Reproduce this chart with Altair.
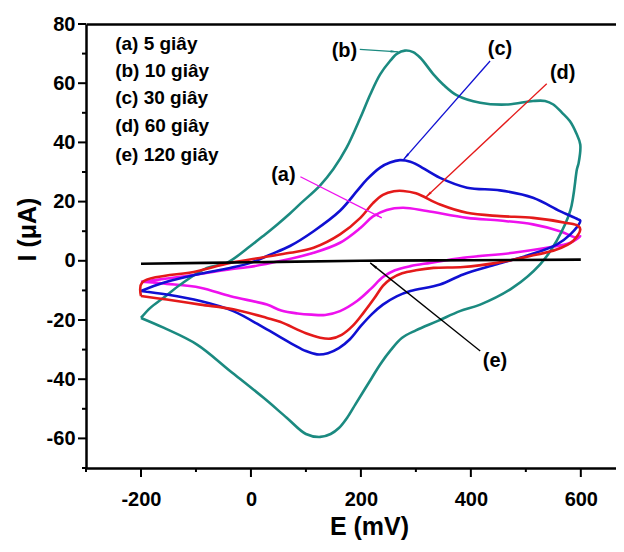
import math
import altair as alt
import pandas as pd

# ---------------- data ----------------
series_names = ["a", "b", "c", "d", "e"]
series_colors = ["#ee11ee", "#1b8a80", "#1010d2", "#e41a1a", "#000000"]

# (a) 5 giây - magenta
a_E = [-200, -153, -98, -37, -7, 53, 114, 162, 199, 222, 247, 277, 320, 393, 453, 513, 562, 593, 599,
       581, 538, 477, 386, 326, 290, 262, 240, 218, 193, 162, 135, 110, 85, 55, 29, -37, -92, -153, -200]
a_I = [-7.1, -6.0, -4.6, -2.8, -2.2, -0.1, 2.7, 6.1, 11.1, 15.0, 17.2, 17.9, 16.8, 14.5, 13.6, 12.3, 10.0, 7.8, 8.3,
       6.1, 4.4, 2.7, 1.0, -0.7, -1.8, -3.2, -5.5, -9.5, -13.6, -17.0, -18.3, -18.2, -17.8, -16.8, -14.8, -12.0, -9.1, -7.8, -7.1]

# (b) 10 giây - teal
b_E = [-200, -183, -159, -128, -80, -44, -1, 23, 48, 71, 90, 126, 150, 174, 199, 217, 235, 253, 266, 280, 295, 308,
       332, 350, 374, 417, 465, 513, 535, 550, 566, 580, 592, 599,
       596, 593, 581, 556, 526, 477, 417, 380, 340, 300, 275, 255, 235, 220, 205, 190, 175, 160, 145, 126, 100, 65, 23, -38, -98, -159, -200]
b_I = [-19.3, -15.9, -12.5, -8.0, -2.4, -0.7, 5.0, 8.5, 12.3, 16.0, 19.3, 25.5, 31.0, 38.2, 48.3, 56.2, 63.0, 67.5, 70.0, 71.0, 70.5, 68.6,
       63.0, 59.5, 56.0, 53.4, 52.8, 54.0, 54.0, 52.8, 50.0, 47.2, 43.0, 39.3,
       33.0, 31.0, 17.0, 6.7, -1.2, -9.0, -14.8, -17.0, -20.3, -23.5, -26.0, -30.0, -35.0, -39.5, -44.0, -48.5, -53.0, -56.5, -58.5, -59.5, -58.5, -53.0, -46.3, -37.2, -28.3, -22.6, -19.3]

# (c) 30 giây - blue
c_E = [-200, -159, -98, -38, -1, 35, 71, 114, 162, 193, 211, 235, 253, 271, 290, 302, 344, 393, 453, 513, 562, 595, 599,
       581, 556, 508, 447, 386, 344, 290, 265, 240, 220, 200, 180, 160, 140, 120, 100, 77, 29, -32, -92, -153, -200]
c_I = [-10.2, -7.4, -4.6, -2.4, -0.7, 2.1, 5.0, 10.0, 16.9, 23.6, 27.5, 31.5, 33.2, 34.0, 33.5, 32.5, 28.0, 24.7, 23.8, 21.3, 16.8, 14.0, 13.5,
       8.9, 5.5, 2.1, -1.2, -4.6, -8.0, -10.2, -12.0, -14.8, -18.0, -22.0, -26.5, -29.5, -31.2, -31.6, -30.5, -28.3, -23.2, -17.0, -13.6, -11.4, -10.2]

# (d) 60 giây - red
d_E = [-200, -198, -98, -38, 23, 71, 114, 162, 199, 222, 240, 260, 277, 300, 344, 393, 453, 513, 574, 595, 599,
       586, 556, 508, 447, 386, 332, 300, 275, 255, 240, 225, 205, 185, 165, 145, 126, 100, 53, 29, -32, -92, -153, -200]
d_I = [-11.9, -7.4, -3.5, -0.7, 1.2, 2.7, 4.4, 8.9, 14.5, 19.5, 22.3, 23.5, 23.6, 22.8, 19.0, 16.2, 15.1, 14.5, 12.8, 11.8, 10.6,
       6.7, 3.8, 1.6, -0.7, -2.1, -2.4, -3.2, -4.2, -6.0, -8.5, -12.5, -17.5, -22.0, -25.0, -26.3, -26.0, -24.5, -20.6, -19.3, -16.4, -14.8, -13.1, -11.9]

# (e) 120 giây - black
e_E = [-200, 0, 200, 400, 600]
e_I = [-1.0, -0.5, 0.0, 0.2, 0.4]

legend_lines = ["(a) 5 giây", "(b) 10 giây", "(c) 30 giây", "(d) 60 giây", "(e) 120 giây"]
legend_E = [-247, -247, -247, -247, -247]
legend_I = [73.1, 64.1, 55.1, 45.6, 35.9]

label_text = ["(a)", "(b)", "(c)", "(d)", "(e)"]
label_E = [59, 170, 453, 567, 444]
label_I = [29.0, 71.0, 71.4, 63.5, -33.9]

arrow_E1 = [90, 198, 435, 538, 417]
arrow_I1 = [28.4, 71.4, 67.5, 59.8, -30.5]
arrow_E2 = [238, 268, 277, 317, 217]
arrow_I2 = [14.5, 70.6, 34.1, 21.3, -0.7]

x_major = [-200, 0, 200, 400, 600]
x_minor = [-300, -100, 100, 300, 500]
y_major = [-60, -40, -20, 0, 20, 40, 60, 80]
y_minor = [-70, -50, -30, -10, 10, 30, 50, 70]
x_domain = [-300, 664]
y_domain = [-70, 80]

# ---------------- layout ----------------
W, H = 530, 444
sx = W / (x_domain[1] - x_domain[0])
sy = H / (y_domain[1] - y_domain[0])

rows = []
for name, Es, Is in zip(series_names, [a_E, b_E, c_E, d_E, e_E], [a_I, b_I, c_I, d_I, e_I]):
    for k, (e, i) in enumerate(zip(Es, Is)):
        rows.append({"s": name, "k": k, "E": e, "I": i})
curves_df = pd.DataFrame(rows)

arrow_rows = []
for n, x1, y1, x2, y2 in zip(series_names, arrow_E1, arrow_I1, arrow_E2, arrow_I2):
    dxp = (x2 - x1) * sx
    dyp = (y2 - y1) * sy
    L = math.hypot(dxp, dyp)
    ang = math.degrees(math.atan2(dxp, dyp)) % 360
    back = 5.0
    arrow_rows.append({"s": n, "E": x1, "I": y1, "E2": x2, "I2": y2, "ang": ang,
                       "hE": x2 - dxp / L * back / sx, "hI": y2 - dyp / L * back / sy})
arrows_df = pd.DataFrame(arrow_rows)

legend_df = pd.DataFrame({"t": legend_lines, "E": legend_E, "I": legend_I})
labels_df = pd.DataFrame({"t": label_text, "E": label_E, "I": label_I})
xt_major_df = pd.DataFrame({"v": x_major})
xt_minor_df = pd.DataFrame({"v": x_minor})
yt_major_df = pd.DataFrame({"v": y_major})
yt_minor_df = pd.DataFrame({"v": y_minor})

xs = alt.Scale(domain=x_domain, nice=False, zero=False)
ys = alt.Scale(domain=y_domain, nice=False, zero=False)
cs = alt.Scale(domain=series_names, range=series_colors)

FONT = "Liberation Sans"

x_axis = alt.Axis(
    values=x_major, title="E (mV)", labelExpr="'' + datum.value",
    ticks=False, labelPadding=21, titlePadding=5, titleX=283, titleAlign="center",
)
y_axis = alt.Axis(
    values=y_major, title="I (μA)", labelExpr="'' + datum.value",
    ticks=False, labelPadding=11,
    titleX=-46, titleY=205, titleAngle=270, titleBaseline="bottom", titleAlign="center",
)
top_axis = alt.Axis(orient="top", labels=False, ticks=False, title=None, domainWidth=2.5, domainColor="black")

curves = alt.Chart(curves_df).mark_line(strokeWidth=2.6, interpolate="catmull-rom").encode(
    x=alt.X("E:Q", scale=xs, axis=x_axis),
    y=alt.Y("I:Q", scale=ys, axis=y_axis),
    color=alt.Color("s:N", scale=cs, legend=None),
    detail="s:N",
    order=alt.Order("k:Q"),
)

# axis tick marks drawn from the tick lists through the scales
xt_major = alt.Chart(xt_major_df).mark_rule(strokeWidth=2, color="black").encode(
    x=alt.X("v:Q", scale=xs, axis=None), y=alt.value(H), y2=alt.value(H + 9))
xt_minor = alt.Chart(xt_minor_df).mark_rule(strokeWidth=2, color="black").encode(
    x=alt.X("v:Q", scale=xs, axis=None), y=alt.value(H), y2=alt.value(H + 4))
yt_major = alt.Chart(yt_major_df).mark_rule(strokeWidth=2, color="black").encode(
    y=alt.Y("v:Q", scale=ys, axis=None), x=alt.value(0), x2=alt.value(-8))
yt_minor = alt.Chart(yt_minor_df).mark_rule(strokeWidth=2, color="black").encode(
    y=alt.Y("v:Q", scale=ys, axis=None), x=alt.value(0), x2=alt.value(-4))

arrow_lines = alt.Chart(arrows_df).mark_rule(strokeWidth=1.3).encode(
    x=alt.X("E:Q", scale=xs, axis=None),
    y=alt.Y("I:Q", scale=ys, axis=None),
    x2="E2:Q", y2="I2:Q",
    color=alt.Color("s:N", scale=cs, legend=None),
)

arrow_heads = alt.Chart(arrows_df).mark_point(shape="wedge", filled=True, size=90, opacity=1).encode(
    x=alt.X("hE:Q", scale=xs, axis=None),
    y=alt.Y("hI:Q", scale=ys, axis=None),
    angle=alt.Angle("ang:Q", scale=None),
    color=alt.Color("s:N", scale=cs, legend=None),
)

labels = alt.Chart(labels_df).mark_text(font=FONT, fontWeight="bold", fontSize=20, color="black").encode(
    x=alt.X("E:Q", scale=xs, axis=None),
    y=alt.Y("I:Q", scale=ys, axis=None),
    text="t:N",
)

legend_text = alt.Chart(legend_df).mark_text(font=FONT, fontWeight="bold", fontSize=19, color="black", align="left").encode(
    x=alt.X("E:Q", scale=xs, axis=top_axis),
    y=alt.Y("I:Q", scale=ys, axis=None),
    text="t:N",
)

chart = alt.layer(curves, xt_major, xt_minor, yt_major, yt_minor,
                  arrow_lines, arrow_heads, labels, legend_text).resolve_axis(
    x="independent", y="independent"
).properties(
    width=W, height=H,
    autosize=alt.AutoSizeParams(type="none"),
    padding={"left": 78, "top": 16, "right": 0, "bottom": 76},
).configure_view(stroke=None).configure_axis(
    domainColor="black", domainWidth=2.5,
    labelFont=FONT, labelFontWeight="bold", labelFontSize=20, labelColor="black",
    titleFont=FONT, titleFontWeight="bold", titleFontSize=25, titleColor="black",
    grid=False, labelOverlap=False,
)

chart.save("out.html", embed_options={"renderer": "svg", "actions": False})
